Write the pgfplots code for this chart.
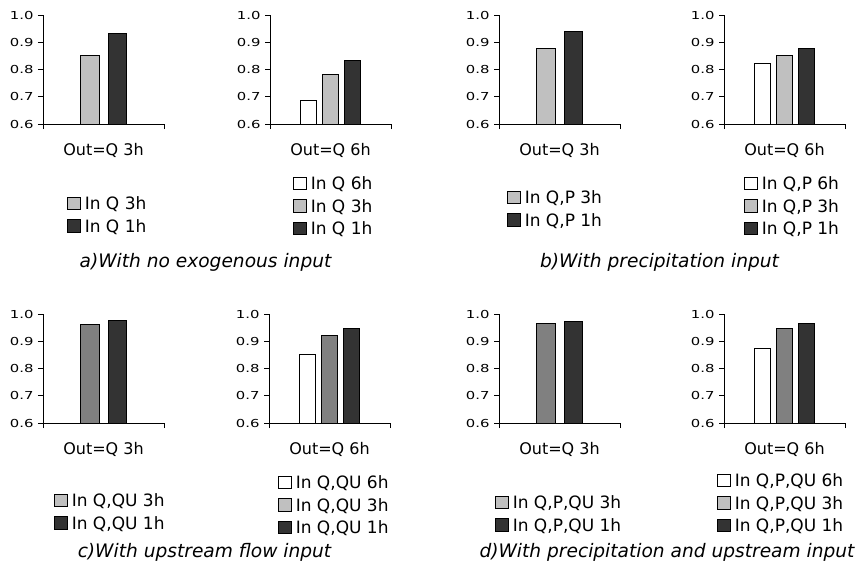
\documentclass[border=0pt]{standalone}
\usepackage{fontspec}
\setmainfont{DejaVu Sans}
\newfontfamily\tickfnt[FakeStretch=1.35]{DejaVu Sans}
\usepackage{pgfplots}
\pgfplotsset{compat=1.18}
\definecolor{lg}{HTML}{C0C0C0}
\definecolor{mg}{HTML}{808080}
\definecolor{dg}{HTML}{333333}
\newcommand\legfnt{\fontsize{17bp}{20bp}\selectfont}
\newcommand\catfnt{\fontsize{16bp}{19bp}\selectfont}
\newcommand\capfnt{\fontsize{18.6bp}{22bp}\selectfont\itshape}
\newcommand\tkfnt{\tickfnt\fontsize{11bp}{13bp}\selectfont}
\pgfplotsset{
 panel/.style={scale only axis, width=121bp, height=109bp,
   xmin=-0.5, xmax=0.5, ymin=0.6, ymax=1.0,
   axis x line=bottom, axis y line=left, axis line style={-, line width=0.8bp, black},
   xtick={-0.5,0.5}, xticklabels={,,}, ytick={0.6,0.7,0.8,0.9,1.0},
   tick align=outside, major tick length=5bp,
   every tick/.style={black, line width=0.8bp},
   xlabel style={font=\catfnt, at={(axis description cs:0.5,0)}, anchor=center, yshift=-26.5bp},
   legend style={draw=none, fill=none, inner sep=0pt, outer sep=0pt, anchor=north west,
     at={(axis description cs:0,0)}, row sep=9.2bp,
     nodes={inner sep=0pt, text height=12.4bp, text depth=0pt, anchor=west, font=\legfnt},
     /tikz/every odd column/.append style={column sep=4bp}},
   yticklabel style={font=\tkfnt, xshift=-1bp, /pgf/number format/.cd, fixed, fixed zerofill, precision=1, assume math mode=true}},
 legbox/.style={legend image code/.code={\draw[black, line width=0.8bp, fill=#1] (0bp,-6.2bp) rectangle (13bp,6.2bp);}},
 two/.style={ybar, bar width=18.5bp, draw=black, line width=0.8bp, forget plot},
 three/.style={ybar, bar width=15.5bp, draw=black, line width=0.8bp, forget plot},
}
\begin{document}
\begin{tikzpicture}
\path[use as bounding box] (0bp,0bp) rectangle (856bp,-571bp);
% a) left
\begin{axis}[panel, at={(43bp,-124bp)}, anchor=south west, xlabel={Out=Q 3h},
  legend style={xshift=24bp, yshift=-72.8bp}]
\addlegendimage{legbox=lg}\addlegendentry{In Q 3h}
\addlegendimage{legbox=dg}\addlegendentry{In Q 1h}
\addplot[two, fill=lg, bar shift=-13.75bp] coordinates {(0,0.850)};
\addplot[two, fill=dg, bar shift=13.75bp] coordinates {(0,0.934)};
\end{axis}
% a) right
\begin{axis}[panel, at={(270bp,-124bp)}, anchor=south west, xlabel={Out=Q 6h},
  legend style={xshift=23bp, yshift=-52.8bp}]
\addlegendimage{legbox=white}\addlegendentry{In Q 6h}
\addlegendimage{legbox=lg}\addlegendentry{In Q 3h}
\addlegendimage{legbox=dg}\addlegendentry{In Q 1h}
\addplot[three, fill=white, bar shift=-22bp] coordinates {(0,0.685)};
\addplot[three, fill=lg, bar shift=0bp] coordinates {(0,0.783)};
\addplot[three, fill=dg, bar shift=22bp] coordinates {(0,0.832)};
\end{axis}
% b) left
\begin{axis}[panel, at={(499bp,-124bp)}, anchor=south west, xlabel={Out=Q 3h},
  legend style={xshift=8bp, yshift=-66.8bp}]
\addlegendimage{legbox=lg}\addlegendentry{In Q,P 3h}
\addlegendimage{legbox=dg}\addlegendentry{In Q,P 1h}
\addplot[two, fill=lg, bar shift=-13.75bp] coordinates {(0,0.878)};
\addplot[two, fill=dg, bar shift=13.75bp] coordinates {(0,0.939)};
\end{axis}
% b) right
\begin{axis}[panel, at={(724bp,-124bp)}, anchor=south west, xlabel={Out=Q 6h},
  legend style={xshift=20bp, yshift=-52.8bp}]
\addlegendimage{legbox=white}\addlegendentry{In Q,P 6h}
\addlegendimage{legbox=lg}\addlegendentry{In Q,P 3h}
\addlegendimage{legbox=dg}\addlegendentry{In Q,P 1h}
\addplot[three, fill=white, bar shift=-22bp] coordinates {(0,0.823)};
\addplot[three, fill=lg, bar shift=0bp] coordinates {(0,0.850)};
\addplot[three, fill=dg, bar shift=22bp] coordinates {(0,0.878)};
\end{axis}
% c) left
\begin{axis}[panel, at={(43bp,-423bp)}, anchor=south west, xlabel={Out=Q 3h},
  legend style={xshift=11bp, yshift=-70.8bp}]
\addlegendimage{legbox=lg}\addlegendentry{In Q,QU 3h}
\addlegendimage{legbox=dg}\addlegendentry{In Q,QU 1h}
\addplot[two, fill=mg, bar shift=-13.75bp] coordinates {(0,0.962)};
\addplot[two, fill=dg, bar shift=13.75bp] coordinates {(0,0.978)};
\end{axis}
% c) right
\begin{axis}[panel, at={(269bp,-423bp)}, anchor=south west, xlabel={Out=Q 6h},
  legend style={xshift=9bp, yshift=-52.8bp}]
\addlegendimage{legbox=white}\addlegendentry{In Q,QU 6h}
\addlegendimage{legbox=lg}\addlegendentry{In Q,QU 3h}
\addlegendimage{legbox=dg}\addlegendentry{In Q,QU 1h}
\addplot[three, fill=white, bar shift=-22bp] coordinates {(0,0.850)};
\addplot[three, fill=mg, bar shift=0bp] coordinates {(0,0.923)};
\addplot[three, fill=dg, bar shift=22bp] coordinates {(0,0.948)};
\end{axis}
% d) left
\begin{axis}[panel, at={(499bp,-423bp)}, anchor=south west, xlabel={Out=Q 3h},
  legend style={xshift=-4bp, yshift=-72.8bp}]
\addlegendimage{legbox=lg}\addlegendentry{In Q,P,QU 3h}
\addlegendimage{legbox=dg}\addlegendentry{In Q,P,QU 1h}
\addplot[two, fill=mg, bar shift=-13.75bp] coordinates {(0,0.966)};
\addplot[two, fill=dg, bar shift=13.75bp] coordinates {(0,0.972)};
\end{axis}
% d) right
\begin{axis}[panel, at={(724bp,-423bp)}, anchor=south west, xlabel={Out=Q 6h},
  legend style={xshift=-7bp, yshift=-50.8bp}]
\addlegendimage{legbox=white}\addlegendentry{In Q,P,QU 6h}
\addlegendimage{legbox=lg}\addlegendentry{In Q,P,QU 3h}
\addlegendimage{legbox=dg}\addlegendentry{In Q,P,QU 1h}
\addplot[three, fill=white, bar shift=-22bp] coordinates {(0,0.872)};
\addplot[three, fill=mg, bar shift=0bp] coordinates {(0,0.948)};
\addplot[three, fill=dg, bar shift=22bp] coordinates {(0,0.966)};
\end{axis}
% captions
\node[font=\capfnt, anchor=base] at (205.5bp,-267.7bp) {a)With no exogenous input};
\node[font=\capfnt, anchor=base] at (659.5bp,-267.7bp) {b)With precipitation input};
\node[font=\capfnt, anchor=base] at (204.5bp,-557.5bp) {c)With upstream flow  input};
\node[font=\capfnt, anchor=base] at (667bp,-557.5bp) {d)With precipitation and upstream input};
\end{tikzpicture}
\end{document}
